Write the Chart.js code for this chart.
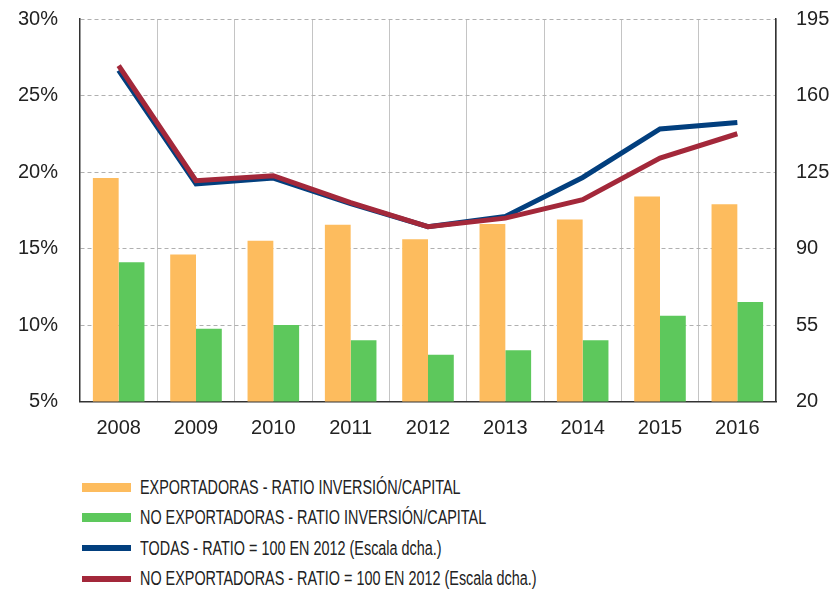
<!DOCTYPE html>
<html>
<head>
<meta charset="utf-8">
<script src="https://cdn.jsdelivr.net/npm/chart.js@4.4.1/dist/chart.umd.min.js"></script>
<style>
    html, body { margin: 0; padding: 0; background: #fff; }
    #wrap { position: relative; width: 833px; height: 589px; overflow: hidden; }
    #chart { position: absolute; left: 0; top: -15px; }
    #legend { position: absolute; left: 82px; top: 472px; font-family: "Liberation Sans", Arial, sans-serif; font-size: 20px; color: #222; }
    .item { height: 30.5px; display: flex; align-items: center; white-space: nowrap; }
    .swatch { width: 49px; margin-right: 9px; flex: none; }
    .txt { display: inline-block; transform: scaleX(0.72); transform-origin: left center; }
</style>
</head>
<body>
<div id="wrap">
    <canvas id="chart" width="833" height="465"></canvas>
    <div id="legend"></div>
</div>
<script>
// Years on the x axis
const years = ['2008', '2009', '2010', '2011', '2012', '2013', '2014', '2015', '2016'];

// Investment / capital ratio, % (left axis)
const exportersRatio = [19.6, 14.6, 15.5, 16.55, 15.6, 16.6, 16.9, 18.4, 17.9];
const nonExportersRatio = [14.1, 9.75, 10.0, 9.0, 8.05, 8.35, 9.0, 10.6, 11.5];

// Index 2012 = 100 (right axis)
const allIndex = [171.5, 119.5, 122.2, 110.5, 100, 104.7, 122.5, 144.7, 147.7];
const nonExportersIndex = [173.7, 121, 123.3, 111, 100, 103.9, 112.3, 131.4, 142.5];

const leftTicks = [5, 10, 15, 20, 25, 30];
const rightTicks = [20, 55, 90, 125, 160, 195];

const labels = [
    'EXPORTADORAS - RATIO INVERSIÓN/CAPITAL',
    'NO EXPORTADORAS - RATIO INVERSIÓN/CAPITAL',
    'TODAS - RATIO = 100 EN 2012 (Escala dcha.)',
    'NO EXPORTADORAS - RATIO = 100 EN 2012 (Escala dcha.)'
];

const orange = '#FDBC5E';
const green = '#5DC85C';
const blue = '#023F7E';
const red = '#A3283A';

const tickFont = { family: '"Liberation Sans", Arial, sans-serif', size: 20 };

const chart = new Chart(document.getElementById('chart').getContext('2d'), {
    type: 'bar',
    data: {
        labels: years,
        datasets: [
            { label: labels[0], data: exportersRatio, backgroundColor: orange, yAxisID: 'y', order: 2,
              categoryPercentage: 0.667, barPercentage: 1.0 },
            { label: labels[1], data: nonExportersRatio, backgroundColor: green, yAxisID: 'y', order: 3,
              categoryPercentage: 0.667, barPercentage: 1.0 },
            { type: 'line', label: labels[2], data: allIndex, borderColor: blue, backgroundColor: blue,
              borderWidth: 5, pointRadius: 0, tension: 0, yAxisID: 'y2', order: 1 },
            { type: 'line', label: labels[3], data: nonExportersIndex, borderColor: red, backgroundColor: red,
              borderWidth: 5, pointRadius: 0, tension: 0, yAxisID: 'y2', order: 0 }
        ]
    },
    options: {
        responsive: false,
        animation: false,
        layout: { padding: { top: 4.5, left: 0, right: 0, bottom: 0 } },
        plugins: { legend: { display: false }, tooltip: { enabled: false } },
        scales: {
            x: {
                grid: { color: '#c4c4c4', lineWidth: 1, offset: true, drawTicks: false },
                border: { color: '#333', width: 1.5 },
                ticks: { color: '#222', font: tickFont, padding: 15 },
                afterFit: (s) => { s.height = 48.5; }
            },
            y: {
                position: 'left',
                min: 5, max: 30,
                afterBuildTicks: (s) => { s.ticks = leftTicks.map(v => ({ value: v })); },
                grid: { color: '#b0b0b0', lineWidth: 1, drawTicks: false },
                border: { color: '#333', width: 1.5, dash: [4, 3] },
                ticks: { color: '#222', font: tickFont, padding: 22, callback: v => v + '%' },
                afterFit: (s) => { s.width = 80; }
            },
            y2: {
                position: 'right',
                min: 20, max: 195,
                afterBuildTicks: (s) => { s.ticks = rightTicks.map(v => ({ value: v })); },
                grid: { display: false, drawTicks: false },
                border: { color: '#333', width: 1.5 },
                ticks: { color: '#222', font: tickFont, padding: 20 },
                afterFit: (s) => { s.width = 57; }
            }
        }
    }
});

// Legend as a vertical list under the chart
const legend = document.getElementById('legend');
chart.data.datasets.forEach((ds) => {
    const item = document.createElement('div');
    item.className = 'item';
    const sw = document.createElement('span');
    sw.className = 'swatch';
    sw.style.height = ds.type === 'line' ? '6px' : '9px';
    sw.style.background = ds.type === 'line' ? ds.borderColor : ds.backgroundColor;
    const txt = document.createElement('span');
    txt.className = 'txt';
    txt.textContent = ds.label;
    item.appendChild(sw);
    item.appendChild(txt);
    legend.appendChild(item);
});
</script>
</body>
</html>
